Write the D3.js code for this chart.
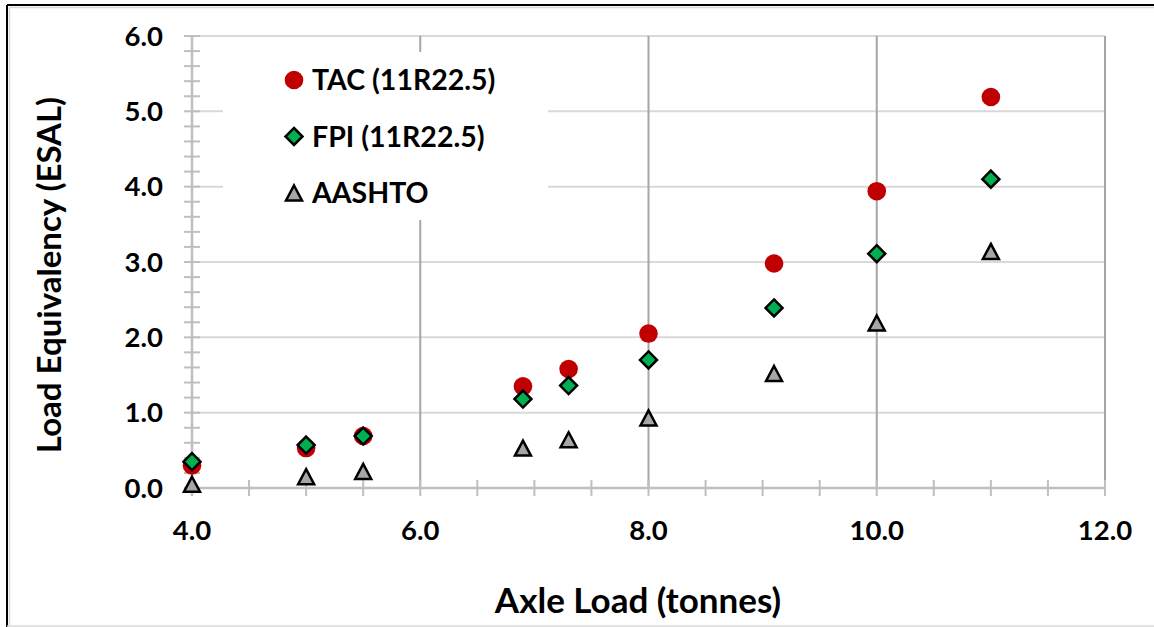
<!DOCTYPE html>
<html>
<head>
<meta charset="utf-8">
<script src="https://cdn.jsdelivr.net/npm/d3@7/dist/d3.min.js"></script>
<style>
  html, body { margin: 0; padding: 0; background: #fff; }
  svg { display: block; }
  text { font-family: Lato, "Open Sans", sans-serif; font-weight: bold; fill: #000; }
</style>
</head>
<body>
<svg id="chart" width="1154" height="627"></svg>
<script>
// ---- data ----
const axleLoad = [4.0, 5.0, 5.5, 6.9, 7.3, 8.0, 9.1, 10.0, 11.0];
const tacValues = [0.30, 0.53, 0.69, 1.35, 1.58, 2.05, 2.98, 3.94, 5.19];
const fpiValues = [0.35, 0.57, 0.69, 1.18, 1.36, 1.70, 2.39, 3.11, 4.10];
const aashtoValues = [0.05, 0.15, 0.22, 0.53, 0.64, 0.93, 1.52, 2.19, 3.14];
const seriesNames = ["TAC (11R22.5)", "FPI (11R22.5)", "AASHTO"];
const xTickValues = [4.0, 6.0, 8.0, 10.0, 12.0];
const yTickValues = [0.0, 1.0, 2.0, 3.0, 4.0, 5.0, 6.0];
const xTitle = "Axle Load (tonnes)";
const yTitle = "Load Equivalency (ESAL)";

const svg = d3.select("#chart");
const W = 1154, H = 627;
const plot = { left: 192, right: 1105, top: 36, bottom: 488 };

const x = d3.scaleLinear().domain([4, 12]).range([plot.left, plot.right]);
const y = d3.scaleLinear().domain([0, 6]).range([plot.bottom, plot.top]);

// background & frame
svg.append("rect").attr("width", W).attr("height", H).attr("fill", "#fff");
svg.append("line").attr("x1", 9.5).attr("x2", W).attr("y1", 7.5).attr("y2", 7.5).attr("stroke", "#d9d9d9").attr("stroke-width", 1.5);
svg.append("line").attr("x1", 9.5).attr("x2", 9.5).attr("y1", 7.5).attr("y2", 626).attr("stroke", "#d9d9d9").attr("stroke-width", 1.5);
svg.append("line").attr("x1", 7).attr("x2", W).attr("y1", 5).attr("y2", 5).attr("stroke", "#000").attr("stroke-width", 2);
svg.append("line").attr("x1", 7).attr("x2", 7).attr("y1", 5).attr("y2", H).attr("stroke", "#000").attr("stroke-width", 2);
svg.append("line").attr("x1", 7).attr("x2", W).attr("y1", 626).attr("y2", 626).attr("stroke", "#d9d9d9").attr("stroke-width", 1.5);

// horizontal gridlines
const hGrid = yTickValues.filter(v => v > 0);
svg.append("g").selectAll("line").data(hGrid).join("line")
  .attr("x1", plot.left).attr("x2", plot.right)
  .attr("y1", d => y(d)).attr("y2", d => y(d))
  .attr("stroke", "#d9d9d9").attr("stroke-width", 2);

// vertical gridlines
const vGrid = xTickValues.filter(v => v > 4);
svg.append("g").selectAll("line").data(vGrid).join("line")
  .attr("x1", d => x(d)).attr("x2", d => x(d))
  .attr("y1", plot.top).attr("y2", plot.bottom)
  .attr("stroke", "#a6a6a6").attr("stroke-width", 2);

// y axis line & ticks
const yAxisG = svg.append("g");
yAxisG.append("line").attr("x1", plot.left).attr("x2", plot.left)
  .attr("y1", plot.top).attr("y2", plot.bottom + 8)
  .attr("stroke", "#bfbfbf").attr("stroke-width", 2.5);
const yMinor = d3.range(0, 6.0001, 0.2);
yAxisG.selectAll("line.tk").data(yMinor).join("line").attr("class", "tk")
  .attr("x1", plot.left - 8).attr("x2", plot.left + 8)
  .attr("y1", d => y(d)).attr("y2", d => y(d))
  .attr("stroke", "#bfbfbf").attr("stroke-width", 2);
yAxisG.selectAll("text").data(yTickValues).join("text")
  .attr("x", 163).attr("y", d => y(d) + 9.5)
  .attr("text-anchor", "end").attr("font-size", 27.5)
  .text(d => d3.format(".1f")(d));

// x axis line & ticks
const xAxisG = svg.append("g");
xAxisG.append("line").attr("x1", plot.left - 8).attr("x2", plot.right)
  .attr("y1", plot.bottom).attr("y2", plot.bottom)
  .attr("stroke", "#bfbfbf").attr("stroke-width", 2.5);
const xMinor = d3.range(4, 12.0001, 0.5);
xAxisG.selectAll("line.tk").data(xMinor).join("line").attr("class", "tk")
  .attr("x1", d => x(d)).attr("x2", d => x(d))
  .attr("y1", plot.bottom - 8).attr("y2", plot.bottom + 8)
  .attr("stroke", "#bfbfbf").attr("stroke-width", 2);
xAxisG.selectAll("text").data(xTickValues).join("text")
  .attr("x", d => x(d)).attr("y", 540)
  .attr("text-anchor", "middle").attr("font-size", 27.5)
  .text(d => d3.format(".1f")(d));

// axis titles
svg.append("text").attr("x", 638).attr("y", 613)
  .attr("text-anchor", "middle").attr("font-size", 35).text(xTitle);
svg.append("text").attr("transform", "translate(61,275) rotate(-90)")
  .attr("text-anchor", "middle").attr("font-size", 33).text(yTitle);

// legend background
svg.append("rect").attr("x", 223).attr("y", 52).attr("width", 325).attr("height", 168).attr("fill", "#fff");

// marker shapes
const diamondPath = "M0,-8.5L8.5,0L0,8.5L-8.5,0Z";
const trianglePath = "M0,-7.5L8,7.5L-8,7.5Z";

function drawCircle(g, cx, cy) {
  g.append("circle").attr("cx", cx).attr("cy", cy).attr("r", 9.3).attr("fill", "#c00000");
}
function drawDiamond(g, cx, cy) {
  g.append("path").attr("d", diamondPath).attr("transform", `translate(${cx},${cy})`)
    .attr("fill", "#00b050").attr("stroke", "#000").attr("stroke-width", 2.5).attr("stroke-linejoin", "miter");
}
function drawTriangle(g, cx, cy) {
  g.append("path").attr("d", trianglePath).attr("transform", `translate(${cx},${cy})`)
    .attr("fill", "#a6a6a6").attr("stroke", "#000").attr("stroke-width", 2.5).attr("stroke-linejoin", "miter");
}

const pts = svg.append("g");
axleLoad.forEach((a, i) => drawCircle(pts, x(a), y(tacValues[i])));
axleLoad.forEach((a, i) => drawDiamond(pts, x(a), y(fpiValues[i])));
axleLoad.forEach((a, i) => drawTriangle(pts, x(a), y(aashtoValues[i])));

// legend
const leg = svg.append("g");
const legY = [80, 136.5, 193];
drawCircle(leg, 294, legY[0]);
drawDiamond(leg, 294, legY[1]);
drawTriangle(leg, 294, legY[2]);
seriesNames.forEach((n, i) => {
  leg.append("text").attr("x", 312).attr("y", legY[i] + 10).attr("font-size", 28.5).text(n);
});
</script>
</body>
</html>
